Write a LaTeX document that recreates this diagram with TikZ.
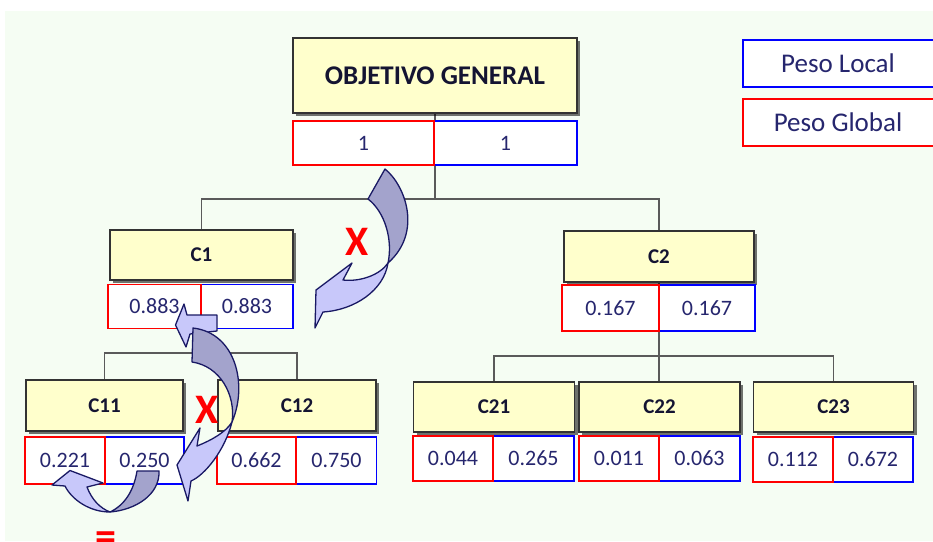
\documentclass[tikz,border=0pt]{standalone}
\usepackage{fontspec}
\setmainfont{Carlito}
\usetikzlibrary{shadows}
\definecolor{pagebg}{RGB}{245,253,243}
\definecolor{critfill}{RGB}{255,255,204}
\definecolor{headc}{RGB}{20,20,50}
\definecolor{valc}{RGB}{38,38,110}
\definecolor{gred}{RGB}{255,0,0}
\definecolor{lblue}{RGB}{0,0,255}
\definecolor{linec}{RGB}{90,90,90}
\definecolor{arrlight}{RGB}{200,200,250}
\definecolor{arrdark}{RGB}{163,163,204}
\definecolor{arredge}{RGB}{25,25,100}
\pgfdeclarelayer{back}
\pgfdeclarelayer{wires}
\pgfsetlayers{back,wires,main}

\begin{document}
\begin{tikzpicture}[x=1pt,y=-1pt,
  crit/.style={draw=black!80, line width=1.2pt, fill=critfill, inner sep=0pt,
    drop shadow={shadow xshift=3pt, shadow yshift=-3pt, opacity=0.55, fill=black},
    font=\fontsize{21}{21}\selectfont\bfseries, text=headc},
  wgt/.style={line width=1.8pt, fill=white, inner sep=0pt,
    font=\fontsize{22}{22}\selectfont, text=valc},
  gw/.style={wgt, draw=gred},
  lw/.style={wgt, draw=lblue},
  conn/.style={draw=linec, line width=1.4pt},
  arrback/.style={fill=arrdark, draw=arredge, line width=1.3pt, line join=round},
  arrfront/.style={fill=arrlight, draw=arredge, line width=1.3pt, line join=round},
  xmk/.style={text=gred, font=\fontsize{42}{42}\selectfont\bfseries, inner sep=0pt, anchor=base},
  legtext/.style={text=valc, font=\fontsize{27}{27}\selectfont, inner sep=0pt},
]
\useasboundingbox (0,0) rectangle (933,541);
\clip (0,0) rectangle (933,541);

\begin{pgfonlayer}{back}
  \fill[white] (0,0) rectangle (933,541);
  \fill[pagebg] (5,11) rectangle (933,541);
\end{pgfonlayer}

% ---- goal ----
\node[crit, minimum width=284pt, minimum height=75pt,
      font=\fontsize{27}{27}\selectfont\bfseries] (og) at (435,75.5) {OBJETIVO GENERAL};
\node[lw, minimum width=143pt, minimum height=44pt] (ogl) at (505.5,143) {1};
\node[gw, minimum width=141pt, minimum height=44pt] (ogg) at (363.5,143) {1};

% ---- first level ----
\node[crit, minimum width=183pt, minimum height=50pt] (c1) at (201.5,255) {C1};
\node[lw, minimum width=92pt, minimum height=44pt] (c1l) at (247,306.5) {0.883};
\node[gw, minimum width=93pt, minimum height=44pt] (c1g) at (154.5,306.5) {0.883};

\node[crit, minimum width=190pt, minimum height=51pt] (c2) at (659,256.5) {C2};
\node[lw, minimum width=96pt, minimum height=46pt] (c2l) at (707,308) {0.167};
\node[gw, minimum width=97pt, minimum height=46pt] (c2g) at (610.5,308) {0.167};

% ---- second level ----
\node[crit, minimum width=157pt, minimum height=51pt] (c11) at (104.5,405.5) {C11};
\node[lw, minimum width=79pt, minimum height=47pt] (c11l) at (144.5,460.5) {0.250};
\node[gw, minimum width=80pt, minimum height=47pt] (c11g) at (65,460.5) {0.221};

\node[crit, minimum width=158pt, minimum height=51pt] (c12) at (297,405.5) {C12};
\node[lw, minimum width=80pt, minimum height=47pt] (c12l) at (336.5,460.5) {0.750};
\node[gw, minimum width=79pt, minimum height=47pt] (c12g) at (256.5,460.5) {0.662};

\node[crit, minimum width=161pt, minimum height=50pt] (c21) at (494,407) {C21};
\node[lw, minimum width=81pt, minimum height=45pt] (c21l) at (533.5,458.5) {0.265};
\node[gw, minimum width=80pt, minimum height=45pt] (c21g) at (453,458.5) {0.044};

\node[crit, minimum width=161pt, minimum height=50pt] (c22) at (659.5,407) {C22};
\node[lw, minimum width=81pt, minimum height=45pt] (c22l) at (699.5,458.5) {0.063};
\node[gw, minimum width=80pt, minimum height=45pt] (c22g) at (619,458.5) {0.011};

\node[crit, minimum width=160pt, minimum height=50pt] (c23) at (833.5,407) {C23};
\node[lw, minimum width=80pt, minimum height=45pt] (c23l) at (873,459.5) {0.672};
\node[gw, minimum width=80pt, minimum height=45pt] (c23g) at (793,459.5) {0.112};

% ---- legend ----
\node[lw, minimum width=200pt, minimum height=47pt] (legl) at (843,63.5) {};
\node[legtext] (leglt) at (838,63.5) {Peso Local};
\node[gw, minimum width=200pt, minimum height=47pt] (legg) at (843,122.5) {};
\node[legtext] (leggt) at (838,122.5) {Peso Global};

% ---- tree connectors ----
\coordinate (j0) at (435,199);
\coordinate (j1) at (201,353);
\coordinate (j2) at (659,356);
\begin{pgfonlayer}{wires}
  \draw[conn] (og.south) -- (j0);
  \draw[conn] (c1.north) |- (j0) -| (c2.north);
  \draw[conn] (c1g.south east) -- (j1);
  \draw[conn] (c11.north) |- (j1) -| (c12.north);
  \draw[conn] (c2.south) -- (c2.south |- c22.north);
  \draw[conn] (c21.north) |- (j2) -| (c23.north);
\end{pgfonlayer}

% ---- curved arrow from the goal weight down to C1 ----
\draw[arrback] (385,169) .. controls (405,185) and (423,232) .. (388,263)
  .. controls (393,240) and (385,212) .. (368,199) -- cycle;
\draw[arrfront] (388,263) .. controls (384,290) and (355,310) .. (323,312)
  -- (315,328) -- (316,290) -- (352,263) -- (343,280)
  .. controls (360,282) and (380,275) .. (388,263) -- cycle;
\node[xmk] (x1) at (357,255) {X};

% ---- curved arrows between C1 and C11 ----
\draw[arrfront] (175.5,325) -- (184,304) -- (187,315) -- (217,315) -- (217,331)
  -- (190,334) -- (186,347) -- cycle;
\draw[arrback] (193,328) .. controls (236,333) and (248,385) .. (232,422)
  .. controls (236,395) and (220,366) .. (192,362) -- cycle;
\draw[arrfront] (232,422) .. controls (225,450) and (205,475) .. (191,481)
  -- (188,501) -- (177,465) -- (200,428) -- (197,446)
  .. controls (212,440) and (226,432) .. (232,422) -- cycle;
\node[xmk] (x2) at (207,423) {X};

% ---- curved arrow from local to global weight of C11 ----
\draw[arrback] (159,471) .. controls (160,495) and (135,510) .. (110,512)
  .. controls (125,505) and (134,490) .. (137,471) -- cycle;
\draw[arrfront] (110,512) .. controls (90,512) and (72,500) .. (65,486)
  -- (52,485) -- (70,470.5) -- (103,483) -- (87,487)
  .. controls (92,500) and (100,508) .. (110,512) -- cycle;
\node[xmk] (eq) at (106,550) {=};
\end{tikzpicture}
\end{document}
